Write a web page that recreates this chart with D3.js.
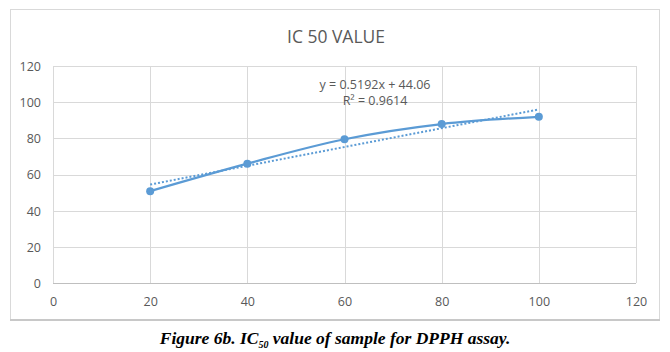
<!DOCTYPE html>
<html><head><meta charset="utf-8">
<script src="https://cdn.jsdelivr.net/npm/d3@7"></script>
<style>body{margin:0;background:#fff}</style>
</head><body>
<svg id="c" width="670" height="352"></svg>
<script>
const concentration = [20, 40, 60, 80, 100];
const inhibition = [50.8, 66.0, 79.5, 87.9, 91.9];
const xTicks = [0, 20, 40, 60, 80, 100, 120];
const yTicks = [0, 20, 40, 60, 80, 100, 120];
const trendSlope = [0.5192];
const trendIntercept = [44.06];
const trendLabels = ["y = 0.5192x + 44.06", "R² = 0.9614"];
const titleText = "IC 50 VALUE";

const svg = d3.select("#c");
const blue = "#5B9BD5", grey = "#595959", grid = "#d9d9d9";
const sans = "Open Sans, sans-serif";

// chart frame
svg.append("rect").attr("x", 10.5).attr("y", 9.5).attr("width", 649).attr("height", 310)
  .attr("fill", "#fff").attr("stroke", "#d9d9d9");
svg.append("line").attr("x1", 10).attr("x2", 660).attr("y1", 320).attr("y2", 320)
  .attr("stroke", "#c8c8c8").attr("stroke-width", 2);

const x = d3.scaleLinear().domain([0, 120]).range([53, 636]);
const y = d3.scaleLinear().domain([0, 120]).range([283, 66]);

// gridlines
svg.append("g").selectAll("line").data(yTicks).join("line")
  .attr("x1", x(0)).attr("x2", x(120))
  .attr("y1", d => Math.round(y(d)) + 0.5).attr("y2", d => Math.round(y(d)) + 0.5)
  .attr("stroke", grid);
svg.append("g").selectAll("line").data(xTicks).join("line")
  .attr("y1", y(0)).attr("y2", y(120))
  .attr("x1", d => Math.round(x(d)) + 0.5).attr("x2", d => Math.round(x(d)) + 0.5)
  .attr("stroke", grid);

// axes
const xAxis = svg.append("g").attr("transform", `translate(0,${y(0) + 9})`)
  .call(d3.axisBottom(x).tickValues(xTicks).tickSize(0).tickPadding(6));
const yAxis = svg.append("g").attr("transform", `translate(${x(0) - 9},0)`)
  .call(d3.axisLeft(y).tickValues(yTicks).tickSize(0).tickPadding(3));
[xAxis, yAxis].forEach(g => {
  g.select(".domain").remove();
  g.selectAll("text").attr("fill", grey).attr("font-family", sans).attr("font-size", 12.5);
});
xAxis.selectAll("text").attr("dy", "0.6em");
yAxis.selectAll("text").attr("dy", "0.35em");
svg.append("line").attr("x1", x(0)).attr("x2", x(120)).attr("y1", Math.round(y(0)) + 0.5).attr("y2", Math.round(y(0)) + 0.5).attr("stroke", "#bfbfbf");

// title
svg.append("text").attr("x", 336).attr("y", 43).attr("text-anchor", "middle")
  .attr("font-family", sans).attr("font-size", 19).attr("fill", grey)
  .attr("textLength", 98).attr("lengthAdjust", "spacingAndGlyphs").text(titleText);

const data = concentration.map((c, i) => ({x: c, y: inhibition[i]}));

// trendline
const xs = d3.extent(concentration);
svg.append("line")
  .attr("x1", x(xs[0])).attr("y1", y(trendSlope[0] * xs[0] + trendIntercept[0]))
  .attr("x2", x(xs[1])).attr("y2", y(trendSlope[0] * xs[1] + trendIntercept[0]))
  .attr("stroke", blue).attr("stroke-width", 2).attr("stroke-dasharray", "2,2");

// smooth line
svg.append("path").datum(data)
  .attr("d", d3.line().x(d => x(d.x)).y(d => y(d.y)).curve(d3.curveCatmullRom.alpha(0.5)))
  .attr("fill", "none").attr("stroke", blue).attr("stroke-width", 2.25);
svg.append("g").selectAll("circle").data(data).join("circle")
  .attr("cx", d => x(d.x)).attr("cy", d => y(d.y)).attr("r", 4).attr("fill", blue);

// equation labels
svg.append("g").selectAll("text").data(trendLabels).join("text")
  .attr("x", 375).attr("y", (d, i) => 89 + i * 16).attr("text-anchor", "middle")
  .attr("font-family", sans).attr("font-size", 12.5).attr("fill", grey)
  .text(d => d);

// caption
const cap = svg.append("text").attr("x", 335).attr("y", 344).attr("text-anchor", "middle")
  .attr("font-family", "Liberation Serif, serif").attr("font-size", 17.5)
  .attr("font-style", "italic").attr("font-weight", "bold").attr("fill", "#000");
cap.append("tspan").text("Figure 6b. IC");
cap.append("tspan").attr("font-size", 10).attr("dy", 4).text("50");
cap.append("tspan").attr("dy", -4).text(" value of sample for DPPH assay.");
</script>
</body></html>
